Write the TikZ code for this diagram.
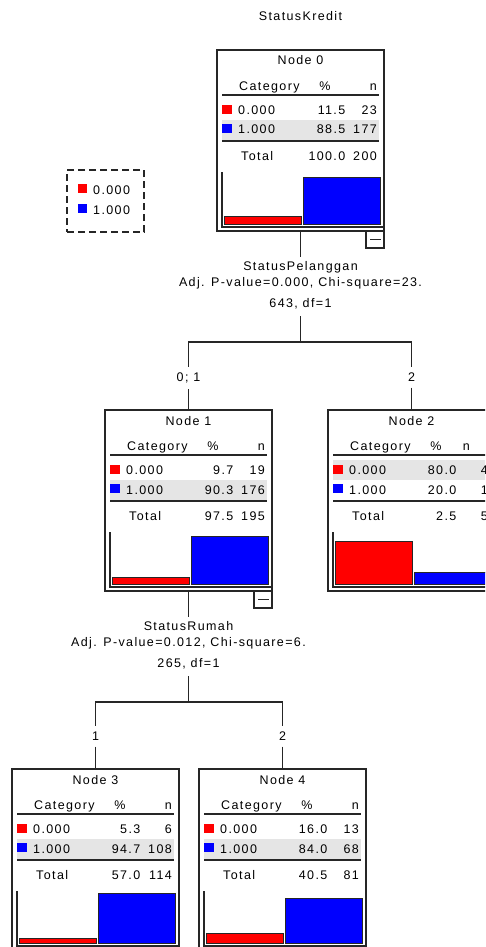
\documentclass[tikz,border=0pt]{standalone}
\usepackage{fontspec}
\setmainfont[LetterSpace=11]{Liberation Sans}
\tikzset{
  every node/.style={font=\fontsize{12.5}{16}\selectfont, inner sep=0pt, text=black},
  boxframe/.style={draw=black!85, line width=1.2pt, minimum width=167pt, minimum height=181pt, inner sep=0pt, fill=white},
  rulethin/.style={line width=1.1pt, draw=black!85},
  rulethick/.style={line width=1.6pt, draw=black!85},
  hlband/.style={fill=black!10},
  redbar/.style={fill=red, draw=black!85, line width=0.8pt},
  bluebar/.style={fill=blue, draw=black!85, line width=0.8pt},
  redsq/.style={fill=red, draw=none},
  bluesq/.style={fill=blue, draw=none},
  conn/.style={line width=1.1pt, draw=black!85},
  splitlbl/.style={align=center, inner xsep=0pt, inner ysep=4pt},
  brlbl/.style={inner xsep=1pt, inner ysep=6pt},
  legbox/.style={draw=black!85, dash pattern=on 7pt off 4pt, line width=1.1pt, minimum width=77pt, minimum height=62pt, inner sep=0pt},
  minusbox/.style={draw=black!85, line width=1.1pt, fill=white}
}
% frame: name, title, highlight top, n-header east x, minus box (1/0)
\newcommand\ctframe[5]{%
  \node[boxframe] (#1) at (83.5,90.5) {};
  \node[anchor=base] (#1t) at (83.5,15) {#2};
  \fill[hlband] (5,#3) rectangle (162,#3+20);
  \node[anchor=base west] (#1hc) at (22,40.5) {Category};
  \node[anchor=base] (#1hp) at (108,40.5) {\%};
  \node[anchor=base east] (#1hn) at (#4,40.5) {n};
  \draw[rulethin] (5,45) -- (162,45);
  \draw[rulethick] (5,91) -- (162,91);
  \draw[rulethin] (5,122) -- (5,177) -- (167,177);
  \fill[redsq] (5,55) rectangle (14.5,64);
  \fill[bluesq] (5,74) rectangle (14.5,83);
  \ifnum#5=1
    \draw[minusbox] (149,181) rectangle (167,198);
    \draw[line width=1.1pt, black!85] (153,189.5) -- (164,189.5);
  \fi
}
% rows: name, p0, n0, p1, n1, ptotal, ntotal
\newcommand\ctrows[7]{%
  \node[anchor=base west] (#1ra) at (21,64.5) {0.000};
  \node[anchor=base east] (#1rb) at (128.5,64.5) {#2};
  \node[anchor=base east] (#1rc) at (160,64.5) {#3};
  \node[anchor=base west] (#1rd) at (21,84) {1.000};
  \node[anchor=base east] (#1re) at (128.5,84) {#4};
  \node[anchor=base east] (#1rf) at (160,84) {#5};
  \node[anchor=base west] (#1rg) at (24,110.5) {Total};
  \node[anchor=base east] (#1rh) at (128.5,110.5) {#6};
  \node[anchor=base east] (#1ri) at (160,110.5) {#7};
  \filldraw[redbar] (7.5,174) rectangle (84,{174-1.5-0.51*#2});
  \filldraw[bluebar] (86.5,174) rectangle (163,{174-1.5-0.51*#4});
}
\begin{document}
\begin{tikzpicture}[x=1pt, y=-1pt]
\useasboundingbox (0,0) rectangle (485,947);
\fill[white] (0,0) rectangle (485,947);
\clip (0,0) rectangle (485,947);

\node[anchor=base] (title) at (300.5,20.5) {StatusKredit};

% legend
\node[legbox] (leg) at (105.5,201) {};
\fill[redsq] (78,184) rectangle (87,193);
\node[anchor=base west] (leg0) at (93,194) {0.000};
\fill[bluesq] (78,204) rectangle (87,213);
\node[anchor=base west] (leg1) at (93,214) {1.000};

% tree nodes
\begin{scope}[shift={(217,50)}]
  \ctframe{n0}{Node 0}{70}{160}{1}
  \ctrows{n0}{11.5}{23}{88.5}{177}{100.0}{200}
\end{scope}
\begin{scope}[shift={(105,410)}]
  \ctframe{n1}{Node 1}{70}{160}{1}
  \ctrows{n1}{9.7}{19}{90.3}{176}{97.5}{195}
\end{scope}
\begin{scope}[shift={(328,410)}]
  \ctframe{n2}{Node 2}{50}{142}{0}
  \ctrows{n2}{80.0}{4}{20.0}{1}{2.5}{5}
\end{scope}
\begin{scope}[shift={(12,769)}]
  \ctframe{n3}{Node 3}{70}{160}{0}
  \ctrows{n3}{5.3}{6}{94.7}{108}{57.0}{114}
\end{scope}
\begin{scope}[shift={(199,769)}]
  \ctframe{n4}{Node 4}{70}{160}{0}
  \ctrows{n4}{16.0}{13}{84.0}{68}{40.5}{81}
\end{scope}

% split 0
\node[splitlbl, anchor=north] (s0) at (300.5,257) {StatusPelanggan\\Adj. P-value=0.000, Chi-square=23.\\[5pt]643, df=1};
\coordinate (j0) at (300.5,342);
\node[brlbl, anchor=base] (b01) at (188.5,381.5) {0; 1};
\node[brlbl, anchor=base] (b2) at (411.5,381.5) {2};
\draw[conn] (n0.south) -- (s0.north);
\draw[conn] ([yshift=-3pt]s0.south) -- (j0);
\draw[conn] (b01.north) |- (j0) -| (b2.north);
\draw[conn] (b01.south) -- (n1.north);
\draw[conn] (b2.south) -- (n2.north);

% split 1
\node[splitlbl, anchor=north] (s1) at (188.5,617) {StatusRumah\\Adj. P-value=0.012, Chi-square=6.\\[5pt]265, df=1};
\coordinate (j1) at (188.5,702);
\node[brlbl, anchor=base] (b3) at (95.5,740.5) {1};
\node[brlbl, anchor=base] (b4) at (282.5,740.5) {2};
\draw[conn] (n1.south) -- (s1.north);
\draw[conn] ([yshift=-3pt]s1.south) -- (j1);
\draw[conn] (b3.north) |- (j1) -| (b4.north);
\draw[conn] (b3.south) -- (n3.north);
\draw[conn] (b4.south) -- (n4.north);
\end{tikzpicture}
\end{document}
